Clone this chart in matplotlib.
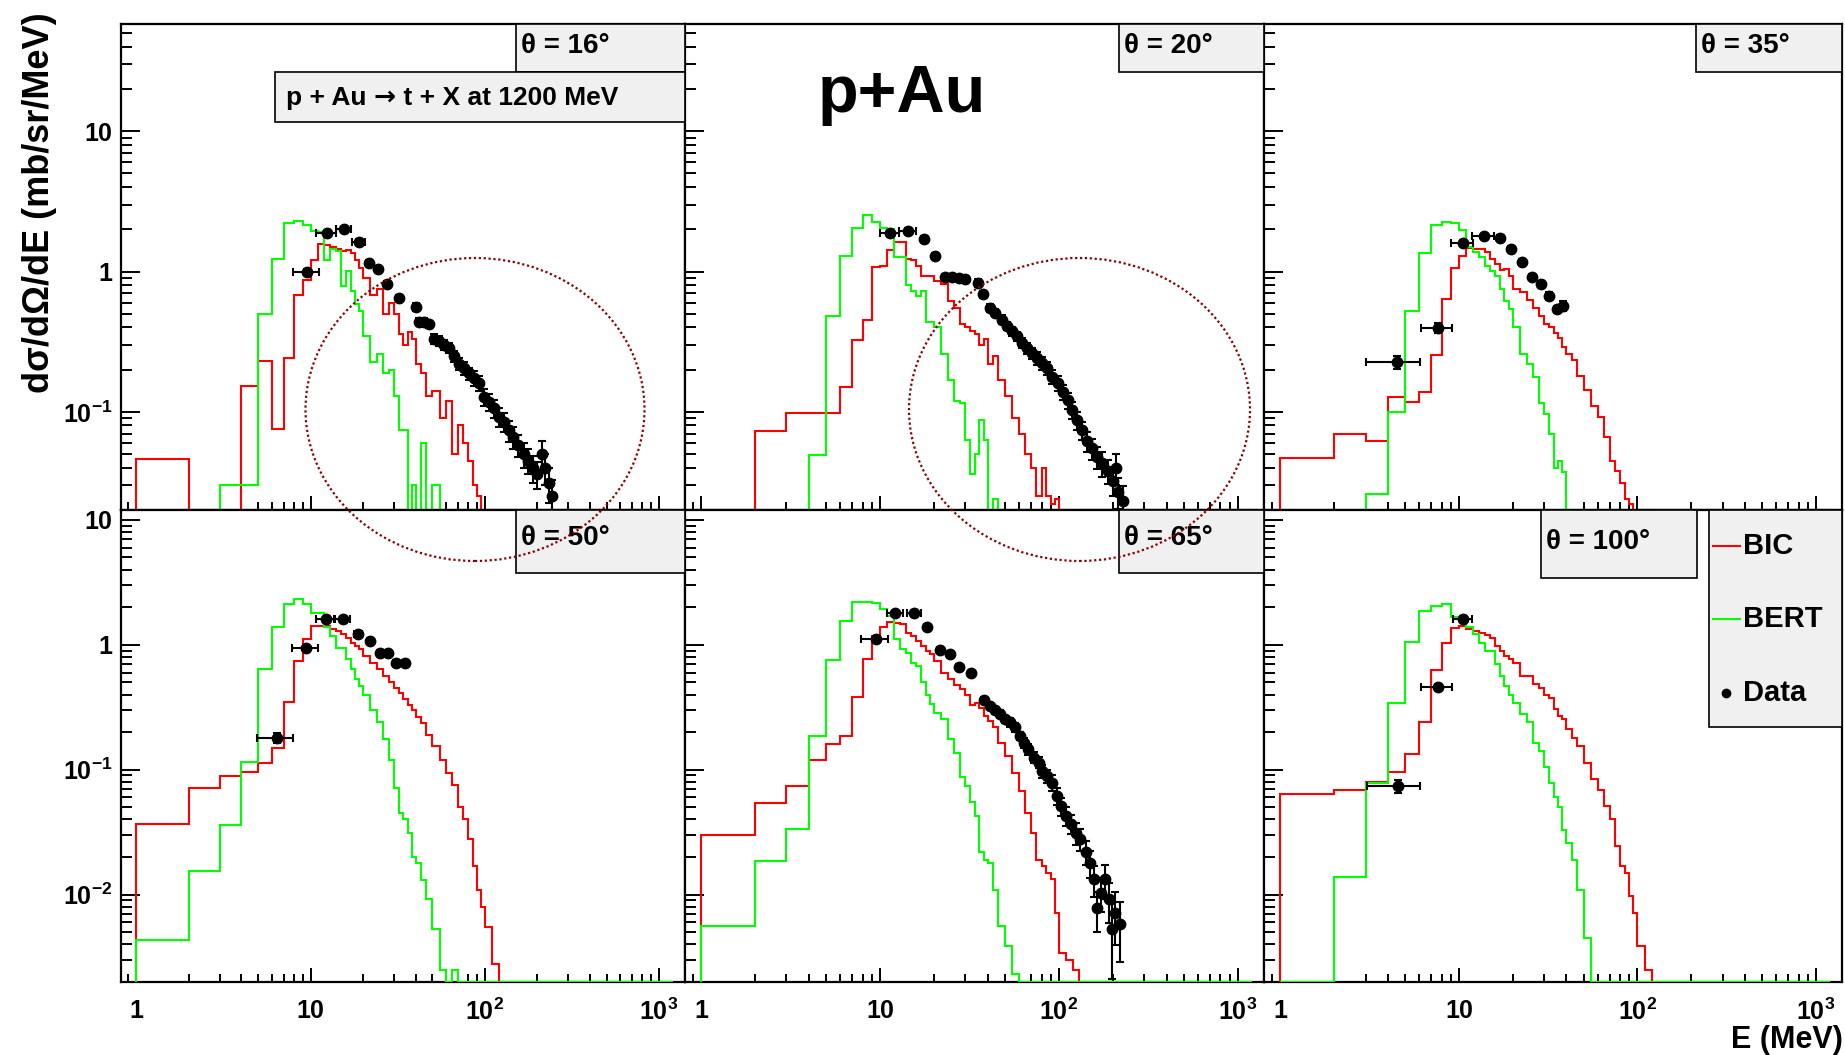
import numpy as np
import matplotlib
matplotlib.use('Agg')
import matplotlib.pyplot as plt
from matplotlib.patches import Ellipse, Rectangle
from matplotlib.lines import Line2D
from matplotlib.ticker import LogLocator, NullFormatter, FuncFormatter

plt.rcParams['font.family'] = ['Liberation Sans', 'DejaVu Sans']
plt.rcParams['font.weight'] = 'bold'
plt.rcParams['mathtext.fontset'] = 'custom'
plt.rcParams['mathtext.rm'] = 'Liberation Sans:bold'
plt.rcParams['mathtext.bf'] = 'Liberation Sans:bold'
plt.rcParams['mathtext.it'] = 'Liberation Sans:bold'
plt.rcParams['mathtext.default'] = 'rm'

# energy bin edges (MeV) of the model histograms
edges = [1, 2, 3, 4, 5, 6, 7, 8, 9, 10, 11, 12, 13, 14, 15, 16, 17, 18, 19, 20,
         22, 24, 26, 28, 30, 32, 34, 36, 38, 40,
         43, 46, 50, 55, 60, 65, 70, 75, 80, 85, 90, 95, 100,
         110, 120, 130, 140, 150, 1200]

angles = ['16', '20', '35', '50', '65', '100']

# BIC (red) and BERT (green) histograms, one list per angle
bic16 = [0.046, 0, 0, 0.154, 0.229, 0.075, 0.241, 0.676, 0.87, 1.21, 1.57, 1.55, 1.49, 1.45, 1.41, 1.43, 1.35, 1.21, 1.06,
         0.90, 0.68, 0.75, 0.50, 0.60, 0.50, 0.36, 0.30, 0.37, 0.33,
         0.22, 0.19, 0.13, 0.14, 0.09, 0.12, 0.05, 0.08, 0.06, 0.045, 0.03, 0.025]
bert16 = [0, 0, 0.030, 0.030, 0.50, 1.23, 2.21, 2.30, 2.13, 1.94, 1.90, 1.21, 1.45, 1.41, 0.79, 1.01, 0.73, 0.59, 0.52,
          0.35, 0.225, 0.26, 0.19, 0.20, 0.13, 0.074, 0.074, 0, 0.03,
          0, 0.06, 0, 0.03]
bic20 = [0, 0.073, 0.098, 0.098, 0.098, 0.150, 0.327, 0.45, 1.07, 1.10, 1.43, 1.61, 1.61, 1.23, 1.20, 1.10, 0.93, 0.93, 0.93,
         0.85, 0.82, 0.62, 0.55, 0.42, 0.40, 0.38, 0.36, 0.30, 0.33,
         0.22, 0.25, 0.17, 0.13, 0.09, 0.07, 0.05, 0.04, 0.025, 0.04, 0.025, 0.022, 0.024]
bert20 = [0, 0, 0, 0.049, 0.48, 1.30, 2.04, 2.51, 2.27, 2.04, 2.0, 1.26, 1.26, 0.80, 0.73, 0.67, 0.73, 0.435, 0.435,
          0.40, 0.26, 0.17, 0.12, 0.115, 0.063, 0.036, 0.05, 0.087, 0.063,
          0, 0.024]
bic35 = [0.047, 0.070, 0.062, 0.127, 0.118, 0.139, 0.255, 0.64, 1.06, 1.30, 1.46, 1.45, 1.45, 1.37, 1.23, 1.13, 1.03, 1.04, 0.93,
         0.755, 0.71, 0.63, 0.55, 0.48, 0.42, 0.40, 0.365, 0.336, 0.29,
         0.26, 0.235, 0.18, 0.143, 0.11, 0.092, 0.066, 0.045, 0.038, 0.031, 0.024, 0.022]
bert35 = [0, 0, 0.026, 0.10, 0.52, 1.35, 2.13, 2.27, 2.22, 1.98, 1.49, 1.37, 1.26, 1.10, 1.01, 0.93, 0.75, 0.62, 0.54,
          0.40, 0.26, 0.22, 0.178, 0.115, 0.097, 0.07, 0.04, 0.045, 0.037]
bic50 = [0.037, 0.072, 0.089, 0.096, 0.114, 0.150, 0.35, 0.74, 1.11, 1.42, 1.42, 1.42, 1.335, 1.29, 1.22, 1.14, 1.04, 0.98, 0.92,
         0.82, 0.72, 0.64, 0.565, 0.50, 0.45, 0.415, 0.37, 0.33, 0.30,
         0.265, 0.235, 0.19, 0.155, 0.12, 0.095, 0.075, 0.050, 0.040, 0.028, 0.017, 0.011, 0.008,
         0.0055, 0.0028]
bert50 = [0.0043, 0.0155, 0.036, 0.116, 0.646, 1.39, 2.12, 2.32, 2.12, 1.79, 1.79, 1.39, 1.17, 0.95, 0.95, 0.77, 0.64, 0.53, 0.47,
          0.40, 0.30, 0.24, 0.175, 0.12, 0.072, 0.045, 0.040, 0.031, 0.020,
          0.018, 0.013, 0.0093, 0.0053, 0.0025, 0, 0.0025]
bic65 = [0.030, 0.054, 0.074, 0.119, 0.160, 0.187, 0.385, 0.777, 1.18, 1.38, 1.51, 1.49, 1.46, 1.25, 1.18, 1.08, 0.98, 0.895, 0.84,
         0.74, 0.60, 0.53, 0.48, 0.44, 0.40, 0.33, 0.345, 0.31, 0.27,
         0.246, 0.218, 0.165, 0.129, 0.095, 0.068, 0.045, 0.031, 0.019, 0.017, 0.015, 0.0133, 0.0071,
         0.0034, 0.003, 0.0025]
bert65 = [0.0056, 0.0186, 0.0338, 0.187, 0.758, 1.56, 2.22, 2.22, 2.16, 1.93, 1.71, 1.11, 0.92, 0.86, 0.72, 0.68, 0.50, 0.40, 0.335,
          0.287, 0.254, 0.175, 0.137, 0.087, 0.074, 0.055, 0.043, 0.022, 0.019,
          0.018, 0.011, 0.0056, 0.0039, 0.0023]
bic100 = [0.0637, 0.069, 0.080, 0.096, 0.134, 0.239, 0.63, 1.03, 1.36, 1.42, 1.35, 1.29, 1.24, 1.20, 1.14, 0.98, 0.895, 0.817, 0.77,
          0.71, 0.56, 0.565, 0.485, 0.455, 0.40, 0.378, 0.305, 0.27, 0.254,
          0.211, 0.181, 0.155, 0.114, 0.084, 0.069, 0.051, 0.040, 0.0245, 0.017, 0.015, 0.0098, 0.0072,
          0.0039, 0.0025]
bert100 = [0, 0.0139, 0.079, 0.345, 1.06, 1.87, 2.05, 2.14, 1.68, 1.56, 1.39, 1.22, 1.04, 0.895, 0.895, 0.70, 0.565, 0.47, 0.40,
           0.345, 0.28, 0.24, 0.165, 0.14, 0.105, 0.079, 0.060, 0.050, 0.033,
           0.026, 0.019, 0.011, 0.0045]

# measured data: energy, value, half width in E, relative error
e16 = [9.5, 12.4, 15.5, 18.9, 21.6, 24.5, 27.5, 32, 40, 42, 45, 48, 51, 54.6, 58.5, 62.4, 66.7, 71, 76, 81, 87,
       92.5, 99, 105.6, 112.6, 120, 128, 137, 146, 156, 167, 178, 190, 199, 212, 222, 232, 242]
v16 = [1.0, 1.87, 2.01, 1.63, 1.15, 1.04, 0.81, 0.65, 0.56, 0.44, 0.44, 0.42, 0.33, 0.32, 0.30, 0.285, 0.25, 0.22, 0.205,
       0.188, 0.174, 0.16, 0.128, 0.118, 0.106, 0.092, 0.085, 0.074, 0.066, 0.058, 0.050, 0.045, 0.040, 0.036, 0.050,
       0.040, 0.031, 0.025]
de16 = [1.6, 1.6, 1.6, 1.6, 0.6, 0.6, 0.6, 0.6, 0.8, 0.8, 0.8, 0.8, 1, 1, 1, 1, 1, 1.5, 1.5, 1.5, 1.5,
        2, 2, 2, 2, 2, 2, 2.5, 2.5, 2.5, 2.5, 3, 3, 3, 3, 3, 3, 3]
r16 = [0.04, 0.04, 0.04, 0.04, 0.05, 0.05, 0.05, 0.05, 0.06, 0.06, 0.06, 0.06, 0.08, 0.08, 0.08, 0.08, 0.09, 0.1, 0.1,
       0.1, 0.12, 0.12, 0.14, 0.14, 0.15, 0.15, 0.16, 0.17, 0.18, 0.18, 0.2, 0.2, 0.22, 0.22, 0.25, 0.25, 0.28, 0.3]

e20 = [11.4, 14.4, 17.7, 20.4, 23.2, 25.3, 27.6, 30.0, 35.3, 37.5, 41.5, 43.8, 48.4, 51.5, 54.9, 58.5, 62.5, 66.7, 71,
       75.9, 81, 86.3, 92, 98.3, 105, 112, 119, 127, 135, 144, 154, 164, 175, 187, 200, 213, 228, 209]
v20 = [1.87, 1.95, 1.71, 1.30, 0.91, 0.91, 0.90, 0.88, 0.83, 0.69, 0.55, 0.51, 0.455, 0.41, 0.375, 0.345, 0.31, 0.285,
       0.262, 0.241, 0.222, 0.205, 0.178, 0.16, 0.139, 0.121, 0.103, 0.087, 0.074, 0.062, 0.055, 0.0475, 0.043, 0.038,
       0.032, 0.027, 0.023, 0.040]
de20 = [1.4, 1.6, 0.6, 0.6, 0.6, 0.6, 0.6, 0.6, 0.8, 0.8, 1, 1, 1, 1, 1, 1, 1, 1.5, 1.5, 1.5, 1.5, 1.5, 2, 2, 2, 2,
        2, 2.5, 2.5, 2.5, 2.5, 3, 3, 3, 3, 3, 3, 3]
r20 = [0.04, 0.04, 0.04, 0.04, 0.05, 0.05, 0.05, 0.05, 0.06, 0.06, 0.06, 0.06, 0.07, 0.07, 0.08, 0.08, 0.08, 0.09, 0.09,
       0.1, 0.1, 0.1, 0.11, 0.12, 0.12, 0.13, 0.14, 0.15, 0.15, 0.16, 0.17, 0.18, 0.2, 0.2, 0.22, 0.25, 0.28, 0.25]

e35 = [4.52, 7.62, 10.5, 13.8, 16.9, 19.7, 22.6, 25.7, 29.0, 31.8, 35.5, 38.4]
v35 = [0.226, 0.396, 1.59, 1.78, 1.74, 1.45, 1.17, 0.92, 0.82, 0.67, 0.54, 0.57]
de35 = [1.5, 1.5, 1.5, 1.9, 0.6, 0.6, 0.6, 0.6, 0.6, 0.6, 0.6, 0.6]
r35 = [0.1, 0.08, 0.05, 0.04, 0.04, 0.05, 0.05, 0.05, 0.05, 0.06, 0.06, 0.08]

e50 = [6.43, 9.44, 12.3, 15.3, 18.7, 21.8, 24.9, 27.8, 31.1, 34.7]
v50 = [0.179, 0.935, 1.61, 1.62, 1.22, 1.08, 0.86, 0.86, 0.72, 0.72]
de50 = [1.5, 1.6, 1.5, 1.6, 1.0, 0.6, 0.6, 0.6, 0.6, 0.6]
r50 = [0.09, 0.05, 0.04, 0.04, 0.05, 0.05, 0.05, 0.05, 0.05, 0.05]

e65 = [9.46, 12.2, 15.5, 18.3, 21.7, 24.6, 27.6, 32.3, 38.0, 41.4, 44.0, 46.9, 50.0, 53.3, 56.8, 60.7, 63.5, 67.6,
       72.2, 77.0, 80.6, 86.0, 91.8, 98.0, 102.5, 109, 116.5, 124, 132, 141, 150, 157, 164, 171, 182, 191, 198, 207, 220]
v65 = [1.12, 1.79, 1.79, 1.39, 0.91, 0.84, 0.67, 0.59, 0.362, 0.325, 0.30, 0.28, 0.254, 0.239, 0.218, 0.187, 0.165,
       0.146, 0.125, 0.114, 0.098, 0.089, 0.079, 0.062, 0.051, 0.043, 0.037, 0.031, 0.028, 0.022, 0.018, 0.0133,
       0.0078, 0.0103, 0.0133, 0.0092, 0.0053, 0.0072, 0.0058]
de65 = [1.6, 1.2, 1.4, 0.6, 0.6, 0.6, 0.6, 0.6, 0.8, 0.8, 1, 1, 1, 1, 1, 1, 1.5, 1.5, 1.5, 1.5, 1.5, 2, 2, 2, 2, 2,
        2.5, 2.5, 2.5, 3, 3, 3, 3, 3, 3, 3, 3, 3, 3]
r65 = [0.05, 0.04, 0.04, 0.04, 0.05, 0.05, 0.05, 0.05, 0.06, 0.06, 0.06, 0.07, 0.07, 0.08, 0.08, 0.08, 0.09, 0.1, 0.1,
       0.1, 0.12, 0.12, 0.14, 0.15, 0.16, 0.17, 0.18, 0.2, 0.2, 0.22, 0.25, 0.28, 0.35, 0.3, 0.3, 0.35, 0.6, 0.45, 0.5]

e100 = [4.54, 7.62, 10.6]
v100 = [0.0742, 0.461, 1.61]
de100 = [1.5, 1.5, 1.3]
r100 = [0.12, 0.06, 0.05]

bic = [bic16, bic20, bic35, bic50, bic65, bic100]
bert = [bert16, bert20, bert35, bert50, bert65, bert100]
data = [(e16, v16, de16, r16), (e20, v20, de20, r20), (e35, v35, de35, r35),
        (e50, v50, de50, r50), (e65, v65, de65, r65), (e100, v100, de100, r100)]

W, H = 1845, 1055
fig = plt.figure(figsize=(W / 100, H / 100), dpi=100)


def fx(px):
    return px / W


def fy(py):
    return 1 - py / H


cols = [(120.5, 684.5), (684.5, 1264), (1264, 1842)]
rows = [(24, 510), (510, 982)]
ylims = [(0.02, 58), (0.002, 12)]
nb = len(edges) - 1


def ylab(v, pos):
    if abs(v - 10) < 1e-6:
        return '10'
    if abs(v - 1) < 1e-6:
        return '1'
    return r'$10^{%d}$' % int(round(np.log10(v)))


def xlab(v, pos):
    if abs(v - 1) < 1e-6:
        return '1'
    if abs(v - 10) < 1e-6:
        return '10'
    return r'$10^{%d}$' % int(round(np.log10(v)))


for k in range(6):
    r, c = divmod(k, 3)
    x0, x1 = cols[c]
    y0, y1 = rows[r]
    ax = fig.add_axes([fx(x0), fy(y1), (x1 - x0) / W, (y1 - y0) / H])
    ax.set_xscale('log')
    ax.set_yscale('log')
    ylo, yhi = ylims[r]
    ax.set_xlim(0.81, 1400)
    ax.set_ylim(ylo, yhi)
    z = 3 if r == 1 else 2
    red = np.maximum(np.array(bic[k] + [0] * (nb - len(bic[k]))), ylo)
    grn = np.maximum(np.array(bert[k] + [0] * (nb - len(bert[k]))), ylo)
    ax.stairs(red, edges, baseline=ylo, color='#ff0000', lw=1.5, zorder=z)
    ax.stairs(grn, edges, baseline=ylo, color='#00ff00', lw=1.5, zorder=z)
    e, v, de, rel = data[k]
    v = np.array(v)
    ax.errorbar(e, v, xerr=de, yerr=np.array(rel) * v, fmt='o', color='k', ms=7.5,
                elinewidth=1.5, capsize=3, capthick=1.5, zorder=4)

    for s in ax.spines.values():
        s.set_linewidth(1.6)
    ax.xaxis.set_major_locator(LogLocator(base=10, numticks=10))
    ax.xaxis.set_minor_locator(LogLocator(base=10, subs=np.arange(2, 10), numticks=20))
    ax.yaxis.set_major_locator(LogLocator(base=10, numticks=10))
    ax.yaxis.set_minor_locator(LogLocator(base=10, subs=np.arange(2, 10), numticks=20))
    ax.xaxis.set_minor_formatter(NullFormatter())
    ax.yaxis.set_minor_formatter(NullFormatter())
    ax.xaxis.set_major_formatter(FuncFormatter(xlab))
    ax.yaxis.set_major_formatter(FuncFormatter(ylab))
    ax.tick_params(which='both', direction='in', top=False, right=False, width=1.4)
    ax.tick_params(axis='x', which='major', length=10, pad=12, labelsize=18)
    ax.tick_params(axis='x', which='minor', length=6)
    ax.tick_params(axis='y', which='major', length=14, pad=6, labelsize=18)
    ax.tick_params(axis='y', which='minor', length=8)
    ax.tick_params(labelleft=(c == 0), labelbottom=(r == 1))


def box(x0, y0, x1, y1):
    fig.add_artist(Rectangle((fx(x0), fy(y1)), (x1 - x0) / W, (y1 - y0) / H,
                             transform=fig.transFigure, facecolor='#f0f0f0',
                             edgecolor='k', lw=1.2, zorder=5))


# angle labels
lab_boxes = [(515.6, 24, 684.5, 72, 46), (1119, 24, 1264, 72, 46), (1696, 24, 1842, 72, 46),
             (515.6, 510, 684.5, 572.6, 538), (1119, 510, 1264, 572.6, 538), (1541, 510, 1697, 578, 542)]
for (bx0, by0, bx1, by1, ty), a in zip(lab_boxes, angles):
    box(bx0, by0, bx1, by1)
    fig.text(fx(bx0 + 5), fy(ty), '\u03b8 = %s\u00b0' % a, fontsize=20, ha='left', va='center', zorder=6)

# reaction label, arrow taken from DejaVu Sans for a larger glyph
box(275, 72, 684.5, 122)
renderer = fig.canvas.get_renderer()
tx = fx(286)
for piece, fam in [('p + Au ', ['Liberation Sans']), ('\u2192', ['DejaVu Sans']),
                   (' t + X at 1200 MeV', ['Liberation Sans'])]:
    t = fig.text(tx, fy(105), piece, fontsize=19, family=fam, ha='left', va='baseline', zorder=6)
    bb = t.get_window_extent(renderer)
    tx = fig.transFigure.inverted().transform((bb.x1, bb.y0))[0]

# legend
box(1709, 510, 1842, 726.5)
fig.add_artist(Line2D([fx(1713), fx(1740)], [fy(546), fy(546)], color='#ff0000', lw=1.5,
                      transform=fig.transFigure, zorder=6))
fig.add_artist(Line2D([fx(1713), fx(1740)], [fy(618.6), fy(618.6)], color='#00ff00', lw=1.5,
                      transform=fig.transFigure, zorder=6))
fig.add_artist(Line2D([fx(1726)], [fy(693)], marker='o', ms=6, color='k',
                      transform=fig.transFigure, zorder=6))
for ty, t in [(546, 'BIC'), (618.6, 'BERT'), (693, 'Data')]:
    fig.text(fx(1743), fy(ty), t, fontsize=21, ha='left', va='center', zorder=6)

# title and axis titles
fig.text(fx(818), fy(112), 'p+Au', fontsize=48, ha='left', va='baseline')
fig.text(fx(40), fy(12), 'd\u03c3/d\u03a9/dE (mb/sr/MeV)', rotation=90, ha='center', va='top', fontsize=26)
fig.text(fx(1843), fy(1040), 'E (MeV)', ha='right', va='center', fontsize=22)

# highlighted regions
for cx, w in [(475, 339), (1079.5, 341)]:
    fig.add_artist(Ellipse((fx(cx), fy(409.5)), w / W, 303 / H, transform=fig.transFigure,
                           fill=False, edgecolor='#8b0000', lw=1.6, linestyle=(0, (1, 1.2)), zorder=7))

fig.savefig('out.png', dpi=100)
